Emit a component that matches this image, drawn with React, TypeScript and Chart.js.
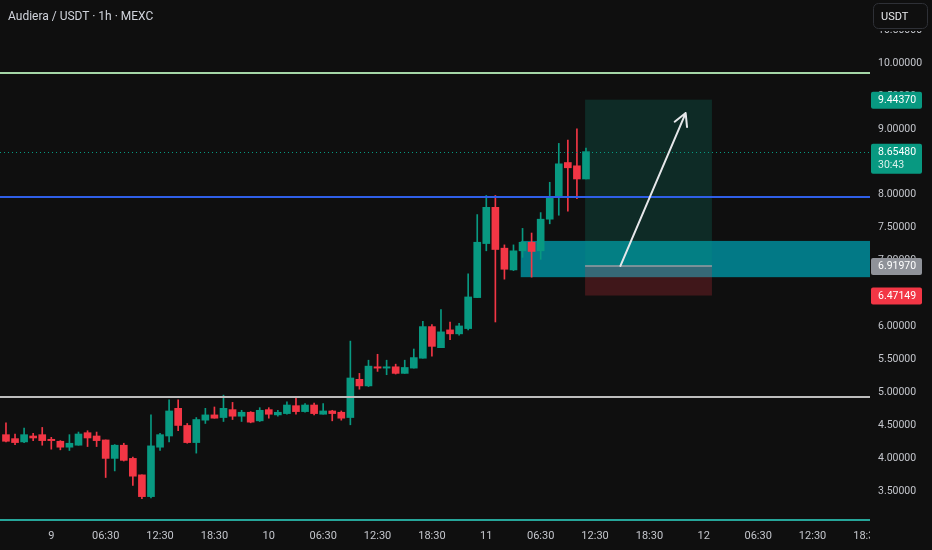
import React, { useEffect, useRef } from "react";
import { Chart, registerables } from "chart.js";

Chart.register(...registerables);

// ---- Data (hourly candles, Audiera / USDT) ----
const opens = [
  4.36, 4.30, 4.25, 4.34, 4.36, 4.29, 4.26, 4.17, 4.20, 4.39,
  4.34, 4.28, 4.00, 4.20, 4.00, 3.75, 3.42, 4.17, 4.34, 4.76,
  4.50, 4.24, 4.58, 4.66, 4.62, 4.74, 4.64, 4.70, 4.57, 4.74,
  4.66, 4.68, 4.80, 4.71, 4.81, 4.67, 4.72, 4.70, 4.62, 5.20,
  5.10, 5.39, 5.37, 5.39, 5.29, 5.37, 5.52, 6.00, 5.68, 5.95,
  5.89, 5.97, 6.44, 7.26, 7.81, 7.19, 6.86, 7.15, 7.28, 7.15,
  7.63, 7.96, 8.49, 8.44, 8.24,
];
const highs = [
  4.54, 4.37, 4.46, 4.38, 4.47, 4.32, 4.27, 4.36, 4.40, 4.42,
  4.40, 4.28, 4.21, 4.23, 4.02, 3.75, 4.66, 4.38, 4.89, 4.89,
  4.53, 4.62, 4.76, 4.78, 4.96, 4.85, 4.73, 4.71, 4.77, 4.77,
  4.73, 4.86, 4.93, 4.83, 4.84, 4.83, 4.73, 4.72, 5.78, 5.29,
  5.49, 5.58, 5.49, 5.43, 5.49, 5.66, 6.08, 6.03, 6.26, 6.07,
  6.05, 6.80, 7.70, 7.99, 7.99, 7.24, 7.24, 7.49, 7.42, 7.73,
  8.19, 8.78, 8.83, 9.00, 8.71,
];
const lows = [
  4.25, 4.21, 4.24, 4.27, 4.20, 4.14, 4.13, 4.12, 4.20, 4.18,
  4.18, 3.71, 3.81, 3.96, 3.59, 3.39, 3.40, 4.12, 4.25, 4.42,
  4.23, 4.08, 4.53, 4.61, 4.56, 4.59, 4.56, 4.54, 4.56, 4.61,
  4.64, 4.67, 4.67, 4.70, 4.66, 4.67, 4.57, 4.58, 4.51, 5.05,
  5.09, 5.32, 5.27, 5.28, 5.29, 5.37, 5.52, 5.55, 5.68, 5.80,
  5.87, 5.95, 6.44, 7.15, 6.07, 6.72, 6.85, 7.05, 6.75, 7.02,
  7.56, 7.69, 7.75, 7.94, 8.24,
];
const closes = [
  4.26, 4.24, 4.36, 4.31, 4.27, 4.27, 4.17, 4.23, 4.37, 4.31,
  4.27, 4.00, 4.20, 3.97, 3.73, 3.42, 4.19, 4.36, 4.72, 4.50,
  4.24, 4.59, 4.66, 4.61, 4.76, 4.64, 4.70, 4.55, 4.73, 4.67,
  4.70, 4.81, 4.71, 4.81, 4.68, 4.72, 4.68, 4.61, 5.22, 5.10,
  5.40, 5.37, 5.39, 5.29, 5.38, 5.53, 6.00, 5.70, 5.92, 5.89,
  6.01, 6.45, 7.28, 7.81, 7.17, 6.87, 7.15, 7.28, 7.14, 7.63,
  7.97, 8.47, 8.41, 8.24, 8.6548,
];

// time axis: label text and the candle slot it sits on
const timeLabels = [
  "9", "06:30", "12:30", "18:30", "10", "06:30", "12:30", "18:30",
  "11", "06:30", "12:30", "18:30", "12", "06:30", "12:30", "18:30",
];
const timeLabelSlots = [5, 11, 17, 23, 29, 35, 41, 47, 53, 59, 65, 71, 77, 83, 89, 95];

// price axis tick labels that are shown
const priceTicks = [3.5, 4.0, 4.5, 5.0, 5.5, 6.0, 6.5, 7.0, 7.5, 8.0, 8.5, 9.0, 9.5, 10.0, 10.5];

// drawings
const horizontalLevels = [9.848, 7.967, 4.932, 3.065];
const levelColors = ["#a5d6a7", "#2f5fe8", "#bdbdbd", "#26a69a"];
const currentPrice = 8.6548;
const demandZone = [56.8, 7.30, 6.75]; // from slot, top price, bottom price
const longPosition = [63.9, 77.9, 6.9197, 9.4437, 6.47149]; // from, to, entry, target, stop
const arrowFrom = [67.8, 6.92];
const arrowTo = [75.0, 9.24];

const priceTagValues = [9.4437, 8.6548, 6.9197, 6.47149];
const priceTagTexts = ["9.44370", "8.65480", "6.91970", "6.47149"];
const priceTagColors = ["#089981", "#089981", "#8f9299", "#f23645"];
const countdownText = "30:43";

const BG = "#0f0f0f";
const UP = "#089981";
const DOWN = "#f23645";
const AXIS_TEXT = "#c4c6cc";
const FONT = "Roboto, 'Liberation Sans', sans-serif";

const X_MIN = -0.66;
const X_MAX = 95.34;
const Y_MIN = 2.959;
const Y_MAX = 10.956;

const overlayPlugin = {
  id: "tvOverlay",
  beforeDatasetsDraw(chart: any) {
    const { ctx, chartArea, scales } = chart;
    const x = scales.x;
    const y = scales.y;
    ctx.save();
    ctx.beginPath();
    ctx.rect(chartArea.left, chartArea.top, chartArea.right - chartArea.left, chartArea.bottom - chartArea.top);
    ctx.clip();

    // demand zone (teal)
    const zx = x.getPixelForValue(demandZone[0]);
    const zt = y.getPixelForValue(demandZone[1]);
    const zb = y.getPixelForValue(demandZone[2]);
    ctx.fillStyle = "rgba(0,140,155,0.85)";
    ctx.fillRect(zx, zt, chartArea.right - zx, zb - zt);

    // long position
    const lx1 = x.getPixelForValue(longPosition[0]);
    const lx2 = x.getPixelForValue(longPosition[1]);
    const ly = y.getPixelForValue(longPosition[2]);
    const lt = y.getPixelForValue(longPosition[3]);
    const ls = y.getPixelForValue(longPosition[4]);
    ctx.fillStyle = "rgba(8,153,129,0.2)";
    ctx.fillRect(lx1, lt, lx2 - lx1, ly - lt);
    ctx.fillStyle = "rgba(242,54,69,0.22)";
    ctx.fillRect(lx1, ly, lx2 - lx1, ls - ly);
    ctx.strokeStyle = "#9a9ca3";
    ctx.lineWidth = 1.5;
    ctx.beginPath();
    ctx.moveTo(lx1, ly);
    ctx.lineTo(lx2, ly);
    ctx.stroke();
    ctx.restore();
  },
  afterDatasetsDraw(chart: any) {
    const { ctx, chartArea, scales } = chart;
    const x = scales.x;
    const y = scales.y;
    ctx.save();
    ctx.beginPath();
    ctx.rect(chartArea.left, chartArea.top, chartArea.right - chartArea.left, chartArea.bottom - chartArea.top);
    ctx.clip();

    // horizontal lines
    horizontalLevels.forEach((p, i) => {
      const py = Math.round(y.getPixelForValue(p));
      ctx.strokeStyle = levelColors[i];
      ctx.lineWidth = 2;
      ctx.beginPath();
      ctx.moveTo(chartArea.left, py);
      ctx.lineTo(chartArea.right, py);
      ctx.stroke();
    });

    // current price dotted line
    const cy = Math.round(y.getPixelForValue(currentPrice)) + 0.5;
    ctx.strokeStyle = UP;
    ctx.lineWidth = 1;
    ctx.setLineDash([1, 3]);
    ctx.beginPath();
    ctx.moveTo(chartArea.left, cy);
    ctx.lineTo(chartArea.right, cy);
    ctx.stroke();
    ctx.setLineDash([]);

    // arrow
    const ax1 = x.getPixelForValue(arrowFrom[0]);
    const ay1 = y.getPixelForValue(arrowFrom[1]);
    const ax2 = x.getPixelForValue(arrowTo[0]);
    const ay2 = y.getPixelForValue(arrowTo[1]);
    ctx.strokeStyle = "#e6e7ea";
    ctx.lineWidth = 2;
    ctx.lineCap = "round";
    ctx.beginPath();
    ctx.moveTo(ax1, ay1);
    ctx.lineTo(ax2, ay2);
    const ang = Math.atan2(ay2 - ay1, ax2 - ax1);
    const head = 14;
    ctx.moveTo(ax2, ay2);
    ctx.lineTo(ax2 - head * Math.cos(ang - 0.5), ay2 - head * Math.sin(ang - 0.5));
    ctx.moveTo(ax2, ay2);
    ctx.lineTo(ax2 - head * Math.cos(ang + 0.5), ay2 - head * Math.sin(ang + 0.5));
    ctx.stroke();
    ctx.restore();
  },
  afterDraw(chart: any) {
    const { ctx, chartArea, scales, width, height } = chart;
    const y = scales.y;
    ctx.save();

    // clip the time labels at the price axis
    ctx.fillStyle = BG;
    ctx.fillRect(chartArea.right, chartArea.bottom + 1, width - chartArea.right, height - chartArea.bottom);

    // price tags
    ctx.font = `10.5px ${FONT}`;
    ctx.textAlign = "left";
    ctx.textBaseline = "middle";
    priceTagValues.forEach((v, i) => {
      const py = y.getPixelForValue(v);
      const isCurrent = v === currentPrice;
      const h = isCurrent ? 30 : 17;
      ctx.fillStyle = priceTagColors[i];
      ctx.beginPath();
      (ctx as any).roundRect(chartArea.right + 1, py - 8, 51, h, 2);
      ctx.fill();
      ctx.fillStyle = "#ffffff";
      ctx.fillText(priceTagTexts[i], chartArea.right + 8, py + 0.5);
      if (isCurrent) {
        ctx.fillStyle = "#d8f0ea";
        ctx.fillText(countdownText, chartArea.right + 8, py + 13.5);
      }
    });

    // currency button
    ctx.fillStyle = BG;
    ctx.fillRect(chartArea.right, 0, width - chartArea.right, 31);
    ctx.strokeStyle = "#2e3036";
    ctx.lineWidth = 1;
    ctx.beginPath();
    (ctx as any).roundRect(873.5, 3.5, 54, 25, 5);
    ctx.stroke();
    ctx.fillStyle = "#e8e9ec";
    ctx.font = `11px ${FONT}`;
    ctx.fillText("USDT", 881, 17);
    ctx.restore();
  },
};

export default function App() {
  const canvasRef = useRef<HTMLCanvasElement | null>(null);

  useEffect(() => {
    document.body.style.margin = "0";
    document.body.style.background = BG;
    const canvas = canvasRef.current;
    if (!canvas) return;
    const slots = opens.map((_, i) => i);
    const colors = slots.map((i) => (closes[i] >= opens[i] ? UP : DOWN));

    const chart = new Chart(canvas, {
      type: "bar",
      data: {
        datasets: [
          {
            label: "wick",
            data: slots.map((i) => ({ x: i, y: [lows[i], highs[i]] })) as any,
            backgroundColor: colors,
            borderWidth: 0,
            barThickness: 1,
            grouped: false,
            order: 2,
          } as any,
          {
            label: "body",
            data: slots.map((i) => ({ x: i, y: [opens[i], closes[i]] })) as any,
            backgroundColor: colors,
            borderWidth: 0,
            barThickness: 7,
            minBarLength: 1,
            grouped: false,
            order: 1,
          } as any,
        ],
      },
      options: {
        responsive: false,
        animation: false,
        events: [],
        layout: { padding: 0 },
        plugins: {
          legend: { display: false },
          tooltip: { enabled: false },
        },
        scales: {
          x: {
            type: "linear",
            min: X_MIN,
            max: X_MAX,
            offset: false,
            grid: { display: false, drawTicks: false },
            border: { display: false },
            afterBuildTicks: (scale: any) => {
              scale.ticks = timeLabelSlots.map((v) => ({ value: v }));
            },
            ticks: {
              autoSkip: false,
              maxRotation: 0,
              padding: 3,
              color: AXIS_TEXT,
              font: { family: FONT, size: 11 },
              callback: (v: any) => {
                const k = timeLabelSlots.indexOf(Number(v));
                return k >= 0 ? timeLabels[k] : "";
              },
            },
            afterFit: (scale: any) => {
              scale.height = 23;
              scale.paddingLeft = 0;
              scale.paddingRight = 0;
            },
          } as any,
          y: {
            type: "linear",
            position: "right",
            min: Y_MIN,
            max: Y_MAX,
            grid: { display: false, drawTicks: false },
            border: { display: false },
            afterBuildTicks: (scale: any) => {
              scale.ticks = priceTicks.map((v) => ({ value: v }));
            },
            ticks: {
              padding: 8,
              color: AXIS_TEXT,
              font: { family: FONT, size: 10.5 },
              callback: (v: any) => Number(v).toFixed(5),
            },
            afterFit: (scale: any) => {
              scale.width = 62;
              scale.paddingTop = 0;
              scale.paddingBottom = 0;
            },
          } as any,
        },
      },
      plugins: [overlayPlugin],
    });
    return () => chart.destroy();
  }, []);

  return (
    <div style={{ position: "fixed", left: 0, top: 0, width: 932, height: 550, background: BG, overflow: "hidden" }}>
      <canvas ref={canvasRef} width={932} height={550} style={{ display: "block", width: 932, height: 550 }} />
      <div
        style={{
          position: "absolute",
          left: 8,
          top: 8,
          fontFamily: FONT,
          fontSize: 12,
          lineHeight: "16px",
          color: "#d1d4dc",
          whiteSpace: "nowrap",
        }}
      >
        Audiera / USDT · 1h · MEXC
      </div>
    </div>
  );
}
